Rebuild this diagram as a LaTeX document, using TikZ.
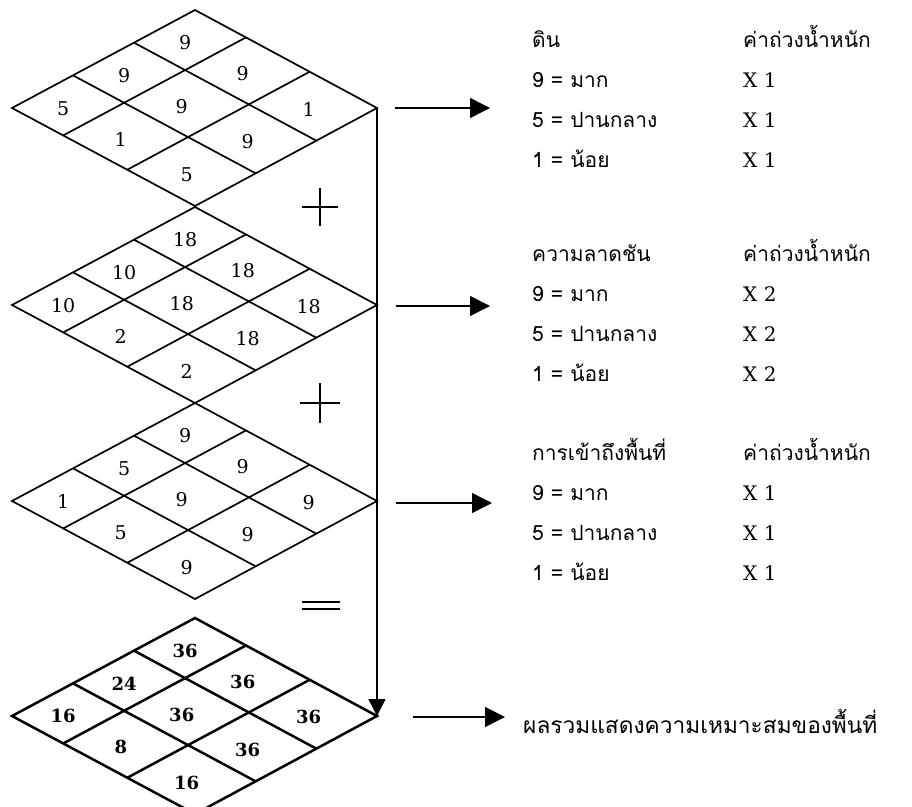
\documentclass[tikz,border=0pt]{standalone}
\usepackage{fontspec}
\newfontfamily\thaifont[Script=Thai]{Loma}
\newfontfamily\numfont{DejaVu Serif}
\usetikzlibrary{arrows.meta,calc}

\tikzset{
	gridline/.style={line width=1.7pt,line join=miter},
	cellnum/.style={inner sep=0pt,font=\numfont\fontsize{19}{19}\selectfont},
	thaitext/.style={anchor=base west,inner sep=0pt,font=\thaifont\fontsize{21}{21}\selectfont},
	weighttext/.style={anchor=base west,inner sep=0pt,font=\numfont\fontsize{20}{20}\selectfont},
	signline/.style={line width=1.6pt},
	flowarrow/.style={line width=1.4pt,-{Triangle[length=20pt,width=20pt]}},
}

% rhombus grid: [style]{name}{centre y}{labels: top,UL,UR,L,C,R,LL,LR,B}
\newcommand{\gridrhomb}[4][]{%
	\begin{scope}[#1]
	\coordinate (#2L) at (12,#3);
	\coordinate (#2T) at (195,#3-98);
	\coordinate (#2R) at (377,#3);
	\coordinate (#2B) at (195,#3+98);
	\draw[gridline] (#2L) -- (#2T) -- (#2R) -- (#2B) -- cycle;
	\foreach \f in {0.3333,0.6667}
	\draw[gridline] ($(#2L)!\f!(#2T)$) -- ($(#2B)!\f!(#2R)$);
	\foreach \f in {0.28,0.63}
	\draw[gridline] ($(#2T)!\f!(#2R)$) -- ($(#2L)!\f!(#2B)$);
	\foreach \v [count=\i from 0] in {#4} {
		\pgfmathsetmacro\s{{0.8333,0.5,0.8333,0.1667,0.5,0.8333,0.1667,0.5,0.1667}[\i]}
		\pgfmathsetmacro\t{{0.14,0.14,0.455,0.14,0.455,0.815,0.455,0.815,0.815}[\i]}
		\node[cellnum] (#2n\i) at ({7+183*(\s+\t)},{#3+3+98*(\t-\s)}) {\v};
	}
	\end{scope}}

\begin{document}
\begin{tikzpicture}[x=1pt,y=-1pt]
	\useasboundingbox (0,0) rectangle (912,806);
	
	%Soil, Slope, Access and Sum Grids
	\gridrhomb{g1}{108}{9,9,9,5,9,1,1,9,5}
	\gridrhomb{g2}{305}{18,10,18,10,18,18,2,18,2}
	\gridrhomb{g3}{501}{9,5,9,1,9,9,5,9,9}
	\gridrhomb[gridline/.append style={line width=2.5pt},
	cellnum/.append style={font=\numfont\bfseries\fontsize{18}{18}\selectfont}]{g4}{716}{36,24,36,16,36,36,8,36,16}
	
	%Plus and Equals Signs
	\draw[signline] (302,207) -- (338,207) (320,188) -- (320,226);
	\draw[signline] (300,403) -- (340,403) (320,383) -- (320,423);
	\draw[signline] (302,602) -- (340,602) (302,609) -- (340,609);
	
	%Vertical Arrow to the Sum
	\draw[line width=1.4pt,-{Triangle[length=17pt,width=17pt]}] (g1R) -- (g4R);
	
	%Legend Blocks
	\foreach \name/\head/\w/\y in {soil/ดิน/1/47,slope/ความลาดชัน/2/261,access/การเข้าถึงพื้นที่/1/460} {
		\node[thaitext] (\name-h) at (532,\y) {\head};
		\node[thaitext] (\name-wh) at (743,\y) {ค่าถ่วงน้ำหนัก};
		\foreach \n/\lvl [count=\k] in {9/มาก,5/ปานกลาง,1/น้อย} {
			\node[thaitext] (\name-\k) at (532,\y+40*\k) {\n\ =\ \lvl};
			\node[weighttext] (\name-w\k) at (743,\y+40*\k) {X \w};
		}
	}
	\node[thaitext,font=\thaifont\fontsize{22.7}{22.7}\selectfont] (sum) at (523,733) {ผลรวมแสดงความเหมาะสมของพื้นที่};
	
	%Horizontal Arrows
	\foreach \name/\y/\xa/\xb in {soil/108/395/490,slope/306/396/490,access/503/396/492,sum/717/413/505} {
		\coordinate (\name-out) at (\xa,\y);
		\coordinate (\name-in) at (\xb,\y);
		\draw[flowarrow] (\name-out) -- (\name-in);
	}
	
\end{tikzpicture}
\end{document}
